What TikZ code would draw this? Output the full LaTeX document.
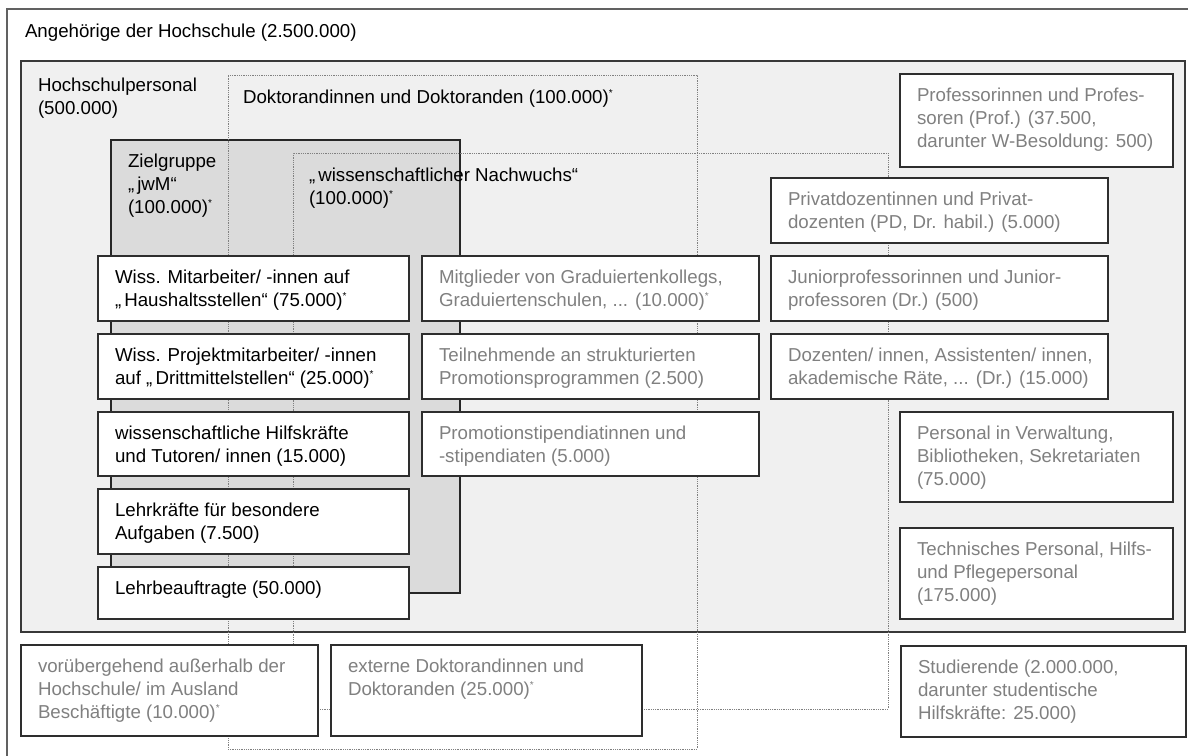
\documentclass[tikz,border=0pt]{standalone}
\usepackage{fontspec}
\setmainfont{Liberation Sans}
% small raised asterisk used after the counts
\newcommand\stern{\raisebox{7pt}{\fontsize{10}{10}\selectfont *}}
% a white card with its label: name, label style, x1, y1, x2, y2, text
\newcommand\cardbox[7]{%
  \node[card, anchor=north west, minimum width={(#5)-(#3)}, minimum height={(#6)-(#4)}] (#1) at (#3,#4) {};
  \node[#2] (#1-text) at ([xshift=17pt,yshift=-7pt]#1.north west) {\rule{0pt}{20pt}#7};
}
\begin{document}
\begin{tikzpicture}[x=1pt,y=-1pt,
  frame/.style={draw=black!62, line width=1.2pt, inner sep=0pt, outer sep=0pt},
  staff/.style={draw=black!78, fill=black!6, line width=1.2pt, inner sep=0pt, outer sep=0pt},
  target/.style={draw=black!85, fill=black!14, line width=1.2pt, inner sep=0pt, outer sep=0pt},
  region/.style={draw=black!50, densely dotted, line width=0.8pt, inner sep=0pt, outer sep=0pt},
  card/.style={draw=black!82, fill=white, line width=1.2pt, inner sep=0pt, outer sep=0pt},
  lbl/.style={inner sep=0pt, outer sep=0pt, anchor=north west, align=left,
              font=\fontsize{18.7}{23.3}\selectfont},
  dark/.style={lbl, text=black},
  pale/.style={lbl, text=black!50},
]
\useasboundingbox (0,0) rectangle (1188,755);
\clip (0,0) rectangle (1188,755);
\fill[white] (0,0) rectangle (1188,755);

% outer frame: all members of the university
\node[frame, anchor=north west, minimum width=1200, minimum height=770] (all) at (7,9) {};
\node[dark] (all-text) at (25,17) {\rule{0pt}{20pt}Angehörige der Hochschule (2.500.000)};

% university staff
\node[staff, anchor=north west, minimum width={1185-21}, minimum height={632-61}] (staff) at (21,61) {};
\node[dark] (staff-text) at (38,71) {\rule{0pt}{20pt}Hochschulpersonal\\(500.000)};

% target group
\node[target, anchor=north west, minimum width={460-111}, minimum height={593-140}] (jwm) at (111,140) {};

% dotted regions
\node[region, anchor=north west, minimum width={697-228}, minimum height={749-75}] (doc) at (228,75) {};
\node[region, anchor=north west, minimum width={888-293}, minimum height={709-153}] (wn) at (293,153) {};

\node[dark] (doc-text) at (243,83) {\rule{0pt}{20pt}Doktorandinnen und Doktoranden (100.000)\stern};
\node[dark] (jwm-text) at (128,147) {\rule{0pt}{20pt}Zielgruppe\\„\,jwM“\\(100.000)\stern};
\node[dark] (wn-text) at (309,161) {\rule{0pt}{20pt}„\,wissenschaftlicher Nachwuchs“\\(100.000)\stern};

% left column
\cardbox{haus}{dark}{98}{256}{409}{321}{Wiss. Mitarbeiter/ -innen auf\\„\,Haushaltsstellen“ (75.000)\stern}
\cardbox{dritt}{dark}{98}{334}{409}{399}{Wiss. Projektmitarbeiter/ -innen\\auf „\,Drittmittelstellen“ (25.000)\stern}
\cardbox{hilf}{dark}{98}{412}{409}{476}{wissenschaftliche Hilfskräfte\\und Tutoren/ innen (15.000)}
\cardbox{lfba}{dark}{98}{489}{409}{554}{Lehrkräfte für besondere\\Aufgaben (7.500)}
\cardbox{lba}{dark}{98}{567}{409}{619}{Lehrbeauftragte (50.000)}

% middle column
\cardbox{grad}{pale}{422}{256}{759}{321}{Mitglieder von Graduiertenkollegs,\\Graduiertenschulen, ... (10.000)\stern}
\cardbox{prog}{pale}{422}{334}{759}{399}{Teilnehmende an strukturierten\\Promotionsprogrammen (2.500)}
\cardbox{stip}{pale}{422}{412}{759}{476}{Promotionstipendiatinnen und\\-stipendiaten (5.000)}

% right column
\cardbox{prof}{pale}{900}{74}{1173}{167}{Professorinnen und Profes-\\soren (Prof.) (37.500,\\darunter W-Besoldung: 500)}
\cardbox{pd}{pale}{771}{178}{1108}{243}{Privatdozentinnen und Privat-\\dozenten (PD, Dr. habil.) (5.000)}
\cardbox{jp}{pale}{771}{256}{1108}{321}{Juniorprofessorinnen und Junior-\\professoren (Dr.) (500)}
\cardbox{doz}{pale}{771}{334}{1108}{399}{Dozenten/ innen, Assistenten/ innen,\\akademische Räte, ... (Dr.) (15.000)}
\cardbox{verw}{pale}{900}{412}{1173}{502}{Personal in Verwaltung,\\Bibliotheken, Sekretariaten\\(75.000)}
\cardbox{tech}{pale}{900}{528}{1173}{619}{Technisches Personal, Hilfs-\\und Pflegepersonal\\(175.000)}

% outside the staff box
\cardbox{ausl}{pale}{21}{645}{318}{736}{vorübergehend außerhalb der\\Hochschule/ im Ausland\\Beschäftigte (10.000)\stern}
\cardbox{ext}{pale}{331}{645}{642}{736}{externe Doktorandinnen und\\Doktoranden (25.000)\stern}
\cardbox{stud}{pale}{901}{646}{1186}{737}{Studierende (2.000.000,\\darunter studentische\\Hilfskräfte: 25.000)}
\end{tikzpicture}
\end{document}
